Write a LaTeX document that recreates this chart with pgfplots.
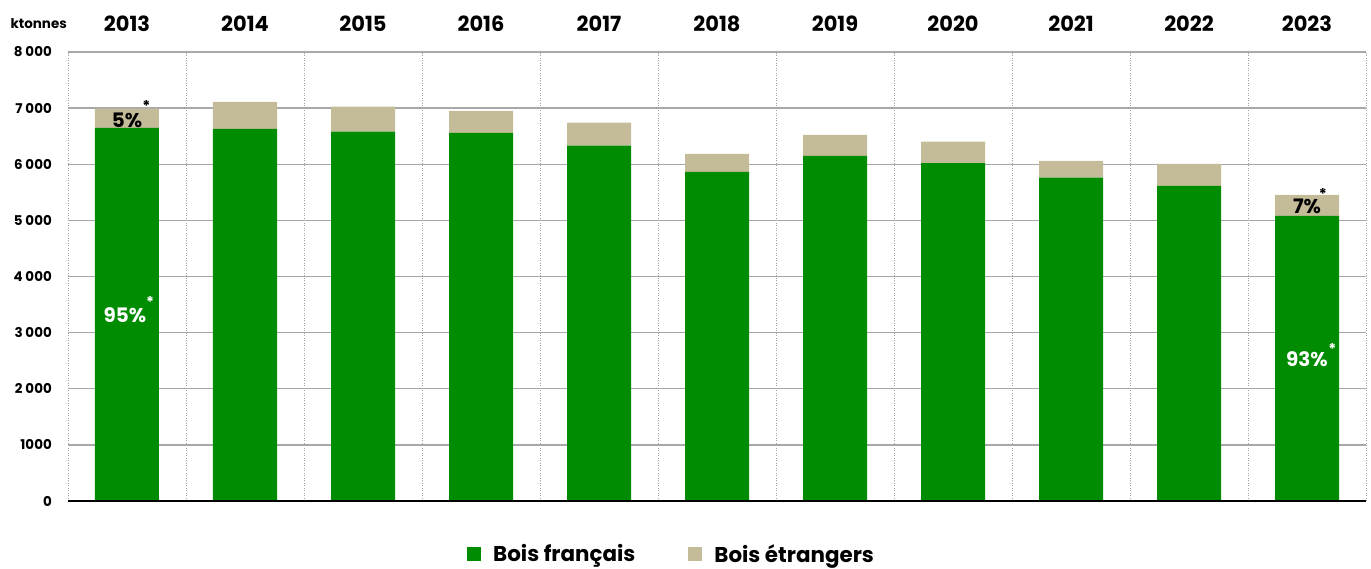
\documentclass[border=0pt]{standalone}
\usepackage{fontspec}
\setmainfont{Poppins}
\usepackage{pgfplots}
\usepackage{pgfplotstable}
\pgfplotsset{compat=1.18}

\definecolor{vert}{HTML}{008C00}
\definecolor{beige}{HTML}{C4BC98}
\definecolor{grille}{HTML}{A8A8A8}
\definecolor{pointille}{HTML}{A0A0A0}

% ktonnes, bois francais / bois etrangers
\pgfplotstableread{
x fr etr
0 6650 340
1 6630 480
2 6580 445
3 6560 390
4 6330 410
5 5865 320
6 6150 375
7 6020 385
8 5760 300
9 5615 390
10 5080 375
}\donnees

\begin{document}
\begin{tikzpicture}
\begin{axis}[
    scale only axis,
    width=1298bp, height=449bp,
    xmin=-0.5, xmax=10.5,
    ymin=0, ymax=8000,
    ybar stacked,
    bar width=64bp,
    axis line style={draw=none},
    major tick length=0pt, minor tick length=0pt,
    xtick={0,...,10},
    xticklabels={2013,2014,2015,2016,2017,2018,2019,2020,2021,2022,2023},
    xticklabel pos=upper,
    xticklabel style={font=\fontsize{21}{21}\selectfont\bfseries, anchor=base, inner sep=0pt, yshift=20bp},
    minor xtick={-0.5,0.5,...,10.5},
    xminorgrids,
    minor x grid style={pointille, line width=0.9bp, dash pattern=on 1bp off 1.5bp},
    ytick={0,1000,...,8000},
    yticklabels={0,1000,2 000,3 000,4 000,5 000,6 000,7 000,8 000},
    yticklabel style={font=\fontsize{13.5}{13.5}\selectfont\bfseries, anchor=east, inner sep=0pt, xshift=-16bp},
    ymajorgrids,
    major y grid style={grille, line width=1.3bp},
    legend columns=2,
    legend image code/.code={\fill[#1] (0bp,-7bp) rectangle (14bp,7bp);},
    legend style={at={(0.3074,-0.1180)}, anchor=west, draw=none, fill=none,
        inner sep=0pt, font=\fontsize{21.5}{21.5}\selectfont\bfseries,
        nodes={inner sep=0pt},
        /tikz/every odd column/.append style={column sep=12bp},
        /tikz/every even column/.append style={column sep=53bp}},
]
\addplot[fill=vert, draw=none] table[x=x, y=fr] {\donnees};
\addplot[fill=beige, draw=none] table[x=x, y=etr] {\donnees};
\legend{Bois français, Bois étrangers}

\coordinate (o) at (rel axis cs:0,0);
\coordinate (e) at (rel axis cs:1,0);
\coordinate (hg) at (rel axis cs:0,1);
\coordinate (p1) at (axis cs:0,6777);
\coordinate (p2) at (axis cs:-0.017,3315);
\coordinate (p3) at (axis cs:10,5253);
\coordinate (p4) at (axis cs:10,2531);
\coordinate (s1) at (axis cs:0.165,7148);
\coordinate (s2) at (axis cs:0.195,3642);
\coordinate (s3) at (axis cs:10.135,5574);
\coordinate (s4) at (axis cs:10.215,2811);
\end{axis}

\draw[black, line width=1.6bp] (o) -- (e);
\node[font=\fontsize{20}{20}\selectfont\bfseries, text=black] at (p1) {5\%};
\node[font=\fontsize{20}{20}\selectfont\bfseries, text=white] at (p2) {95\%};
\node[font=\fontsize{20}{20}\selectfont\bfseries, text=black] at (p3) {7\%};
\node[font=\fontsize{20}{20}\selectfont\bfseries, text=white] at (p4) {93\%};
\node[font=\fontsize{15}{15}\selectfont\bfseries, text=black, anchor=north, inner sep=0pt] at (s1) {*};
\node[font=\fontsize{15}{15}\selectfont\bfseries, text=white, anchor=north, inner sep=0pt] at (s2) {*};
\node[font=\fontsize{15}{15}\selectfont\bfseries, text=black, anchor=north, inner sep=0pt] at (s3) {*};
\node[font=\fontsize{15}{15}\selectfont\bfseries, text=white, anchor=north, inner sep=0pt] at (s4) {*};
\node[font=\fontsize{13.5}{13.5}\selectfont\bfseries, anchor=base east, inner sep=0pt]
    at ([xshift=-1bp, yshift=23bp]hg) {ktonnes};

\pgfresetboundingbox
\path[use as bounding box] (-68bp,-68bp) rectangle (1303bp,501bp);
\end{tikzpicture}
\end{document}
